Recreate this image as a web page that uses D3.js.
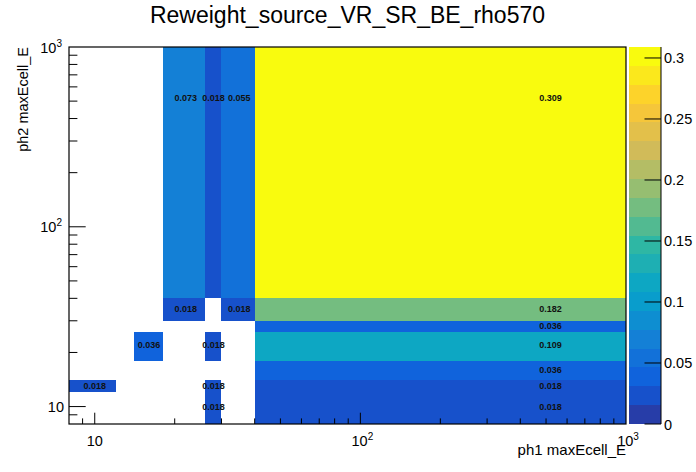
<!DOCTYPE html>
<html>
<head>
<meta charset="utf-8">
<script src="https://d3js.org/d3.v7.min.js"></script>
<style>
body { margin: 0; background: #fff; }
text { font-family: "Liberation Sans", Arial, Helvetica, sans-serif; }
</style>
</head>
<body>
<script>
// bin edges, same on both axes
var binEdges = [8, 12, 14, 18, 26, 30, 40, 1000];

// filled cells: x bin index, y bin index, content
var cellX = [0, 2, 3, 3, 4, 4, 4, 4, 5, 5, 6, 6, 6, 6, 6, 6, 6];
var cellY = [1, 3, 5, 6, 0, 1, 3, 6, 5, 6, 0, 1, 2, 3, 4, 5, 6];
var cellValue = [0.018, 0.036, 0.018, 0.073, 0.018, 0.018, 0.018, 0.018, 0.018, 0.055,
                 0.018, 0.018, 0.036, 0.109, 0.036, 0.182, 0.309];

var zTicks = [0, 0.05, 0.1, 0.15, 0.2, 0.25, 0.3];
var zTickLabels = ["0", "0.05", "0.1", "0.15", "0.2", "0.25", "0.3"];
var title = "Reweight_source_VR_SR_BE_rho570";
var xTitle = "ph1 maxEcell_E";
var yTitle = "ph2 maxEcell_E";

var width = 696, height = 472;
var frameL = 69, frameR = 626, frameT = 47, frameB = 424;
var palLeft = 629, palRight = 661;
var nContours = 20;

// ROOT kBird palette
var birdStops = [0.0, 0.125, 0.25, 0.375, 0.5, 0.625, 0.75, 0.875, 1.0];
var birdR = [0.2082, 0.0592, 0.0780, 0.0232, 0.1802, 0.5301, 0.8186, 0.9956, 0.9764];
var birdG = [0.1664, 0.3599, 0.5041, 0.6419, 0.7178, 0.7492, 0.7328, 0.7862, 0.9832];
var birdB = [0.5293, 0.8684, 0.8385, 0.7914, 0.6425, 0.4662, 0.3499, 0.1968, 0.0539];

function bird(t) {
    var i = 0;
    while (i < birdStops.length - 2 && t > birdStops[i + 1]) i++;
    var f = (t - birdStops[i]) / (birdStops[i + 1] - birdStops[i]);
    var c = function(a) { return Math.round(255 * (a[i] + (a[i + 1] - a[i]) * f)); };
    return d3.rgb(c(birdR), c(birdG), c(birdB)).toString();
}
function contourColor(k) {
    var idx = Math.floor((k + 0.99) * 255 / nContours);
    return bird(Math.min(idx, 254) / 254);
}

var zmin = 0, zmax = d3.max(cellValue);
function zColor(v) {
    var k = Math.floor((v - zmin) / (zmax - zmin) * nContours);
    return contourColor(Math.max(0, Math.min(nContours - 1, k)));
}

var x = d3.scaleLog().domain([8, 1000]).range([frameL, frameR]);
var y = d3.scaleLog().domain([8, 1000]).range([frameB, frameT]);
var z = d3.scaleLinear().domain([zmin, zmax]).range([frameB, frameT]);

var svg = d3.select('body')
    .append('svg')
    .attr('width', width)
    .attr('height', height);

svg.append('rect').attr('width', width).attr('height', height).attr('fill', '#fff');

var cells = cellValue.map(function(v, i) {
    return { ix: cellX[i], iy: cellY[i], v: v };
});

// cells
svg.append('g').selectAll('rect')
    .data(cells)
    .enter()
    .append('rect')
    .attr('x', function(d) { return x(binEdges[d.ix]); })
    .attr('y', function(d) { return y(binEdges[d.iy + 1]); })
    .attr('width', function(d) { return x(binEdges[d.ix + 1]) - x(binEdges[d.ix]); })
    .attr('height', function(d) { return y(binEdges[d.iy]) - y(binEdges[d.iy + 1]); })
    .attr('fill', function(d) { return zColor(d.v); })
    .attr('shape-rendering', 'crispEdges');

// cell texts at the (linear) bin centres
var fmt = d3.format('.3f');
svg.append('g').selectAll('text')
    .data(cells)
    .enter()
    .append('text')
    .attr('x', function(d) { return x((binEdges[d.ix] + binEdges[d.ix + 1]) / 2); })
    .attr('y', function(d) { return y((binEdges[d.iy] + binEdges[d.iy + 1]) / 2); })
    .attr('dy', '0.35em')
    .attr('text-anchor', 'middle')
    .attr('font-size', '9px')
    .attr('font-weight', 'bold')
    .attr('fill', '#111')
    .text(function(d) { return fmt(d.v); });

// frame
svg.append('rect')
    .attr('x', frameL).attr('y', frameT)
    .attr('width', frameR - frameL).attr('height', frameB - frameT)
    .attr('fill', 'none').attr('stroke', '#000').attr('stroke-width', 1.2);

function isMajor(t) { return Math.abs(Math.log10(t) - Math.round(Math.log10(t))) < 1e-9; }

// x ticks (pointing up into the frame)
var xt = x.ticks().filter(function(t) { return t > 8 && t < 1000; });
svg.append('g').selectAll('line')
    .data(xt)
    .enter()
    .append('line')
    .attr('x1', function(d) { return x(d); })
    .attr('x2', function(d) { return x(d); })
    .attr('y1', frameB)
    .attr('y2', function(d) { return frameB - (isMajor(d) ? 11.3 : 5.6); })
    .attr('stroke', '#000');

// y ticks (pointing right into the frame)
var yt = y.ticks().filter(function(t) { return t > 8 && t < 1000; });
svg.append('g').selectAll('line')
    .data(yt)
    .enter()
    .append('line')
    .attr('y1', function(d) { return y(d); })
    .attr('y2', function(d) { return y(d); })
    .attr('x1', frameL)
    .attr('x2', function(d) { return frameL + (isMajor(d) ? 16.7 : 8.4); })
    .attr('stroke', '#000');

function powerLabel(sel, d) {
    var e = Math.round(Math.log10(d));
    sel.append('tspan').text('10');
    if (e > 1) {
        sel.append('tspan').attr('dy', -6).attr('font-size', '10px').text(e);
    }
}

var xMajor = x.ticks().filter(isMajor);
svg.append('g').selectAll('text')
    .data(xMajor)
    .enter()
    .append('text')
    .attr('x', function(d) { return x(d) + (d > 10 ? 2 : 0); })
    .attr('y', 446)
    .attr('text-anchor', 'middle')
    .attr('font-size', '14.5px')
    .each(function(d) { powerLabel(d3.select(this), d); });

var yMajor = y.ticks().filter(isMajor);
svg.append('g').selectAll('text')
    .data(yMajor)
    .enter()
    .append('text')
    .attr('x', function(d) { return d > 10 ? 62 : 64; })
    .attr('y', function(d) { return y(d) + 5.5; })
    .attr('text-anchor', 'end')
    .attr('font-size', '14.5px')
    .each(function(d) { powerLabel(d3.select(this), d); });

// palette
var bands = d3.range(nContours);
svg.append('g').selectAll('rect')
    .data(bands)
    .enter()
    .append('rect')
    .attr('x', palLeft)
    .attr('width', palRight - palLeft)
    .attr('y', function(k) { return z(zmin + (k + 1) * (zmax - zmin) / nContours); })
    .attr('height', function(k) { return z(zmin + k * (zmax - zmin) / nContours) - z(zmin + (k + 1) * (zmax - zmin) / nContours); })
    .attr('fill', function(k) { return contourColor(k); })
    .attr('shape-rendering', 'crispEdges');

svg.append('line')
    .attr('x1', palRight).attr('x2', palRight)
    .attr('y1', frameT).attr('y2', frameB)
    .attr('stroke', '#000');

svg.append('g').selectAll('line')
    .data(zTicks)
    .enter()
    .append('line')
    .attr('x1', palRight - 16.5).attr('x2', palRight)
    .attr('y1', function(d) { return z(d); })
    .attr('y2', function(d) { return z(d); })
    .attr('stroke', '#000');

svg.append('g').selectAll('text')
    .data(zTicks)
    .enter()
    .append('text')
    .attr('x', palRight + 3)
    .attr('y', function(d) { return z(d) + 5.5; })
    .attr('font-size', '14.5px')
    .text(function(d, i) { return zTickLabels[i]; });

// titles
svg.append('text')
    .attr('x', 347.5).attr('y', 23)
    .attr('text-anchor', 'middle')
    .attr('font-size', '23px')
    .text(title);

svg.append('text')
    .attr('x', frameR).attr('y', 455)
    .attr('text-anchor', 'end')
    .attr('font-size', '15px')
    .text(xTitle);

svg.append('text')
    .attr('transform', 'translate(28,' + frameT + ') rotate(-90)')
    .attr('text-anchor', 'end')
    .attr('font-size', '14.5px')
    .text(yTitle);
</script>
</body>
</html>
